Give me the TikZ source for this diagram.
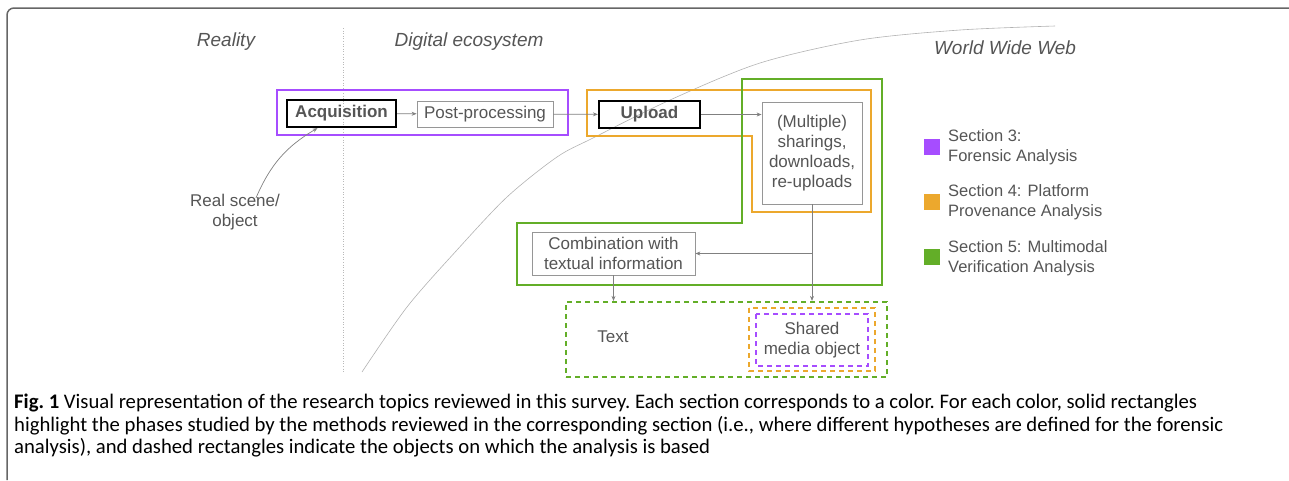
\documentclass[tikz,border=0pt]{standalone}
\usepackage{fontspec}
\setmainfont{Liberation Sans}
\newfontfamily\capfont{Carlito}
\usetikzlibrary{arrows.meta,calc}

\definecolor{secpurple}{RGB}{166,77,255}
\definecolor{secorange}{RGB}{236,168,45}
\definecolor{secgreen}{RGB}{99,174,40}
\definecolor{labelgray}{RGB}{85,85,85}
\definecolor{boxgray}{RGB}{150,150,150}

\begin{document}
\begin{tikzpicture}[x=1pt,y=-1pt,
  every node/.style={font=\fontsize{17}{20}\selectfont,text=labelgray,align=center,inner sep=0pt},
  phase/.style={draw=boxgray,line width=0.8pt},
  keyphase/.style={draw=black,line width=2.2pt},
  link/.style={draw=gray,line width=0.7pt,-{Stealth[length=5pt,width=4pt]}},
  region/.style={line width=2.4pt},
  objbox/.style={line width=2.2pt,dash pattern=on 5pt off 4pt},
  zone/.style={font=\fontsize{19}{22}\selectfont\itshape},
  swatch/.style={minimum size=16pt},
  key/.style={anchor=west,align=left,font=\fontsize{16.5}{19.5}\selectfont},
  capline/.style={anchor=base west,text=black,font=\capfont\fontsize{20.7}{23}\selectfont\frenchspacing},
]
\useasboundingbox (0,0) rectangle (1289,480);
\draw[line width=1.5pt,gray!80!black,rounded corners=7pt] (7,480) -- (7,8) -- (1289,8);

% reality / digital / web
\node[zone] (reality) at (226,42) {Reality};
\node[zone] (digital) at (469,42) {Digital ecosystem};
\node[zone] (www) at (1005,48) {World Wide Web};
\draw[gray!55,dotted,line width=0.6pt] (343,28) -- (343,372);
\draw[gray!60,line width=0.6pt] plot[smooth] coordinates {(362,372) (407,307) (457,250) (507,197) (557,157) (593,138) (670,100) (760,63) (860,40) (960,30) (1055,26)};

% section rectangles
\draw[region,secpurple] (277,90) rectangle (568,135);
\draw[region,secorange] (587,90) -- (871,90) -- (871,212) -- (752,212) -- (752,136) -- (587,136) -- cycle;
\draw[region,secgreen] (742,79) -- (882,79) -- (882,285) -- (517,285) -- (517,223) -- (742,223) -- cycle;

% phases
\node[keyphase,minimum width=109pt,minimum height=27pt,font=\fontsize{17}{20}\selectfont\bfseries] (acq) at (341.5,113.5) {Acquisition};
\node[phase,minimum width=136pt,minimum height=26pt] (post) at (485,114) {Post-processing};
\node[keyphase,minimum width=101pt,minimum height=27pt,font=\fontsize{17}{20}\selectfont\bfseries] (upload) at (649.5,114.5) {Upload};
\node[phase,minimum width=100pt,minimum height=102pt] (multi) at (812,153) {(Multiple)\\sharings,\\downloads,\\re-uploads};
\node[phase,minimum width=163pt,minimum height=43pt] (comb) at (613.5,253.5) {Combination with\\textual information};
\node (scene) at (235,212) {Real scene/\\object};

% objects
\node[objbox,draw=secgreen,minimum width=321pt,minimum height=75pt] (objects) at (726.5,339.5) {};
\draw[objbox,secorange] (749,308) rectangle (875,371);
\draw[objbox,secpurple] (756,314) rectangle (868,366);
\node (text) at (613,337) {Text};
\node (media) at (812,340) {Shared\\media object};

% connectors
\draw[link] ([xshift=21pt,yshift=-4pt]scene.north) to[bend left=18] ([xshift=-24pt]acq.south);
\draw[link] (acq) -- (post);
\draw[link] (post) -- (upload);
\draw[link] (upload.east) -- (multi.west |- upload.east);
\coordinate (split) at (multi.south |- comb.east);
\draw[link] (multi.south) -- (multi.south |- objects.north);
\draw[link] (split) -- (comb.east);
\draw[link] (comb.south) -- (comb.south |- objects.north);

% legend
\node[swatch,fill=secpurple] (k3) at (932,147) {};
\node[swatch,fill=secorange] (k4) at (932,202) {};
\node[swatch,fill=secgreen] (k5) at (932,257) {};
\node[key] (t3) at (948,147) {Section 3:\\Forensic Analysis};
\node[key] (t4) at (948,202) {Section 4: Platform\\Provenance Analysis};
\node[key] (t5) at (948,258) {Section 5: Multimodal\\Verification Analysis};

% caption
\node[capline] (cap1) at (14,408) {\textbf{Fig. 1} Visual representation of the research topics reviewed in this survey. Each section corresponds to a color. For each color, solid rectangles};
\node[capline] (cap2) at (14,431) {highlight the phases studied by the methods reviewed in the corresponding section (i.e., where different hypotheses are defined for the forensic};
\node[capline] (cap3) at (14,453) {analysis), and dashed rectangles indicate the objects on which the analysis is based};
\end{tikzpicture}
\end{document}
